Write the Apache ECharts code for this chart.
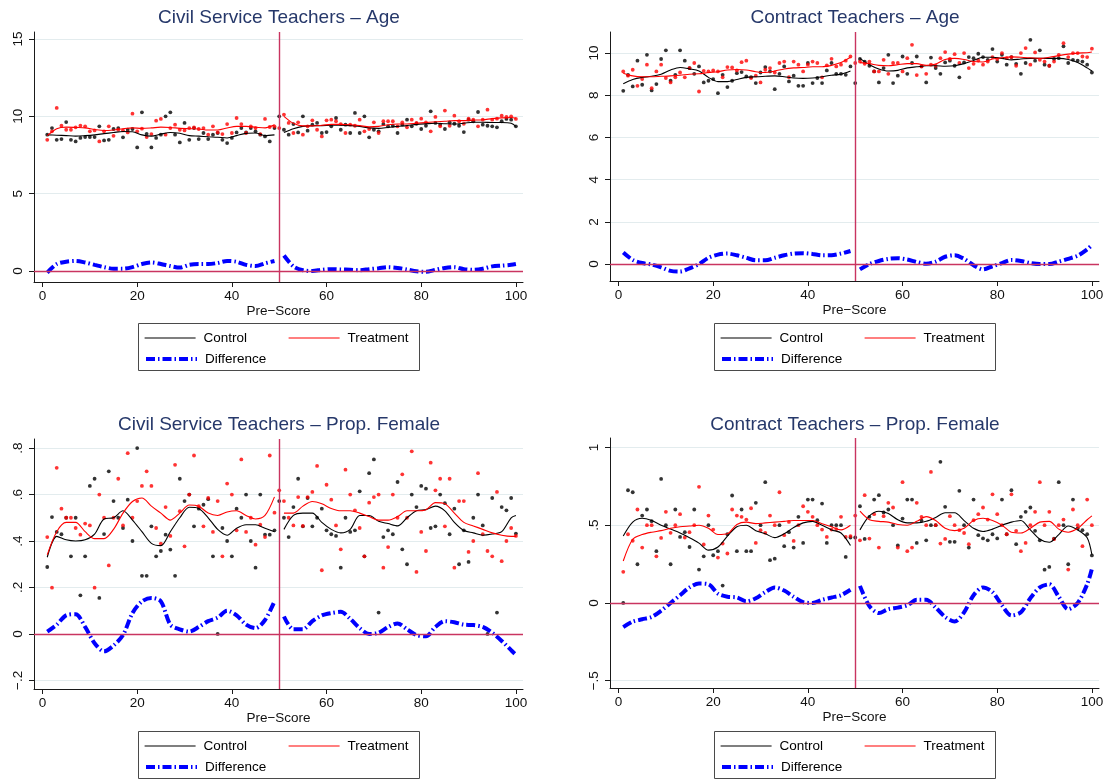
<!DOCTYPE html>
<html>
<head>
<meta charset="utf-8">
<script src="https://cdn.jsdelivr.net/npm/echarts@6.0.0/dist/echarts.min.js"></script>
<style>
  html, body { margin: 0; padding: 0; background: #ffffff; }
  #chart { width: 1109px; height: 780px; }
</style>
</head>
<body>
<div id="chart"></div>
<script>
// ---- Pre-score bins (x positions of the binned means) ----
const preScore = [1,2,3,4,5,6,7,8,9,10,11,12,13,14,15,16,17,18,19,20,
  21,22,23,24,25,26,27,28,29,30,31,32,33,34,35,36,37,38,39,40,
  41,42,43,44,45,46,47,48,49,50,51,52,53,54,55,56,57,58,59,60,
  61,62,63,64,65,66,67,68,69,70,71,72,73,74,75,76,77,78,79,80,
  81,82,83,84,85,86,87,88,89,90,91,92,93,94,95,96,97,98,99,100];

// Evaluation points of the local fits, below and above the cutoff at 50
const knotsBelow = [1,3,5,7,9,11,13,15,17,19,21,23,25,27,29,31,33,35,37,39,41,43,45,47,49];
const knotsAbove = [51,53,55,57,59,61,63,65,67,69,71,73,75,77,79,81,83,85,87,89,91,93,95,97,99,100];

const xTicks = [0, 20, 40, 60, 80, 100];

// ---- Civil Service Teachers - Age ----
const csAgeControl = [8.81,9.24,8.48,8.53,9.63,8.48,8.38,8.6,8.66,8.66,
  8.66,9.35,8.44,8.48,9.18,9.24,8.64,9.13,9.18,7.99,
  10.26,8.87,7.99,8.6,8.81,10.0,10.26,8.81,8.31,9.57,
  8.48,9.24,8.53,8.92,8.53,8.81,8.92,8.48,8.27,8.6,
  8.96,9.24,8.96,9.24,9.03,8.81,8.7,8.38,9.24,10.0,
  9.13,8.81,9.5,8.96,10.0,9.07,9.46,9.57,8.92,8.98,
  9.35,9.89,9.13,9.46,8.92,10.22,8.92,10.0,8.64,9.13,
  9.03,9.5,9.35,9.39,8.92,9.46,9.78,9.35,9.52,9.18,
  9.39,10.32,9.57,9.46,9.18,9.61,9.52,9.39,8.98,9.78,
  9.68,10.28,9.46,9.39,9.35,9.29,9.68,9.83,9.78,9.35];
const csAgeTreat = [8.48,9.03,10.54,9.39,9.13,9.13,9.29,9.39,9.35,9.03,
  9.09,8.38,9.03,9.35,8.74,9.13,9.09,8.96,10.17,9.03,
  9.2,8.66,8.85,9.72,9.83,8.81,9.24,9.46,9.13,9.09,
  9.24,9.29,9.18,9.24,8.81,9.35,8.96,8.85,9.5,8.92,
  9.89,9.5,8.92,9.35,9.24,8.85,9.83,9.31,9.35,9.24,
  10.11,9.57,8.92,9.61,8.81,9.35,9.74,9.13,8.7,9.74,
  9.78,9.68,9.5,8.92,9.46,9.39,9.78,9.03,9.18,9.61,
  8.92,9.68,9.68,9.68,9.35,9.61,9.29,9.78,9.57,9.85,
  9.61,9.03,9.96,9.35,10.37,9.39,10.04,9.68,9.52,9.85,
  9.78,9.35,9.78,10.43,9.78,9.85,10.04,9.96,10.0,9.83];
const csAgeControlFitBelow = [8.8,8.78,8.75,8.72,8.75,8.8,8.88,8.95,9.02,9.0,8.8,8.72,8.85,8.95,8.9,8.75,8.72,8.68,8.65,8.6,8.75,8.9,8.92,8.75,8.8];
const csAgeControlFitAbove = [8.95,9.2,9.35,9.4,9.4,9.42,9.42,9.4,9.35,9.25,9.22,9.28,9.35,9.4,9.48,9.52,9.55,9.52,9.5,9.55,9.62,9.62,9.6,9.6,9.55,9.35];
const csAgeTreatFitBelow = [8.75,9.2,9.3,9.28,9.25,9.15,9.08,9.12,9.2,9.25,9.22,9.25,9.3,9.28,9.22,9.2,9.18,9.12,9.12,9.25,9.35,9.35,9.3,9.25,9.45];
const csAgeTreatFitAbove = [10.0,9.55,9.38,9.38,9.42,9.48,9.48,9.45,9.4,9.32,9.35,9.45,9.5,9.5,9.55,9.6,9.65,9.68,9.72,9.72,9.75,9.78,9.85,9.9,9.92,9.88];
const csAgeDiffBelow = [-0.1,0.45,0.6,0.65,0.55,0.4,0.25,0.15,0.15,0.25,0.45,0.55,0.45,0.32,0.22,0.4,0.45,0.45,0.52,0.65,0.6,0.4,0.32,0.5,0.65];
const csAgeDiffAbove = [1.0,0.3,0.05,0.0,0.08,0.12,0.1,0.08,0.05,0.12,0.18,0.25,0.2,0.1,-0.02,-0.05,0.08,0.2,0.25,0.12,0.08,0.15,0.3,0.35,0.4,0.45];

// ---- Contract Teachers - Age ----
const ctAgeControl = [8.21,8.97,8.42,9.64,8.5,9.92,8.23,8.53,9.72,10.13,
  8.69,8.97,10.13,9.64,9.29,9.02,9.37,8.61,8.69,8.77,
  8.1,8.97,8.39,8.69,9.05,9.1,8.89,8.86,8.58,9.08,
  9.34,9.13,8.29,9.02,9.37,8.66,8.93,8.45,8.45,9.53,
  8.58,8.82,8.58,9.18,9.53,9.02,9.02,8.97,9.37,8.58,
  9.72,9.6,9.4,9.13,8.61,9.29,9.92,8.58,8.93,9.84,
  9.02,9.53,9.84,9.37,8.61,9.79,9.29,9.02,9.56,9.64,
  9.4,8.85,9.56,9.81,9.76,9.97,9.81,9.68,10.19,9.6,
  9.92,9.45,9.81,9.49,9.02,9.53,10.63,9.64,10.13,9.45,
  9.4,9.72,9.76,10.32,9.53,9.68,9.64,9.6,9.45,9.08];
const ctAgeTreat = [9.13,8.93,9.21,8.45,8.77,9.45,8.34,9.13,9.45,8.82,
  8.61,8.85,9.08,8.85,9.29,9.53,8.18,9.16,9.13,9.18,
  9.13,8.85,9.34,9.32,9.18,9.57,9.64,8.82,8.93,8.61,
  9.21,9.29,9.08,9.53,9.6,8.86,9.6,9.45,9.13,9.45,
  9.6,9.53,8.85,9.42,9.73,9.37,9.45,9.64,9.84,9.53,
  9.6,9.49,9.6,9.13,9.13,9.68,9.02,9.53,9.53,9.13,
  9.76,10.39,8.96,9.37,9.02,9.45,9.4,9.76,10.05,9.72,
  9.95,9.53,10.0,9.29,9.49,9.65,9.45,9.6,9.81,9.72,
  10.0,9.76,9.81,9.4,10.0,10.24,9.45,10.03,9.68,9.6,
  9.4,9.6,9.92,10.47,9.81,10.0,10.0,9.84,9.81,10.21];
const ctAgeControlFitBelow = [8.55,8.75,8.85,8.9,9.0,9.2,9.32,9.25,9.15,8.85,8.65,8.65,8.75,8.85,8.88,8.9,8.92,8.88,8.82,8.8,8.82,8.88,8.95,9.0,9.15];
const ctAgeControlFitAbove = [9.75,9.45,9.25,9.15,9.18,9.3,9.35,9.4,9.4,9.38,9.4,9.5,9.65,9.8,9.8,9.75,9.68,9.72,9.75,9.75,9.75,9.75,9.7,9.55,9.3,9.15];
const ctAgeTreatFitBelow = [9.05,8.92,8.88,8.88,8.9,8.92,8.95,9.0,9.02,9.08,9.12,9.2,9.22,9.2,9.12,9.08,9.15,9.25,9.3,9.32,9.35,9.35,9.42,9.55,9.8];
const ctAgeTreatFitAbove = [9.55,9.5,9.42,9.4,9.45,9.5,9.5,9.42,9.48,9.7,9.75,9.7,9.6,9.58,9.72,9.78,9.82,9.8,9.78,9.75,9.8,9.88,9.95,10.0,10.02,10.05];
const ctAgeDiffBelow = [0.55,0.2,0.05,-0.02,-0.15,-0.32,-0.35,-0.2,0.0,0.3,0.45,0.5,0.42,0.3,0.18,0.18,0.3,0.42,0.5,0.52,0.48,0.42,0.42,0.5,0.62];
const ctAgeDiffAbove = [-0.25,0.0,0.15,0.25,0.28,0.22,0.1,0.02,0.12,0.35,0.42,0.25,-0.05,-0.25,-0.1,0.05,0.2,0.15,0.05,0.0,0.0,0.12,0.25,0.4,0.7,0.9];

// ---- Civil Service Teachers - Prop. Female ----
const csFemControl = [0.288,0.503,0.439,0.429,0.5,0.334,0.5,0.166,0.334,0.637,
  0.668,0.155,0.43,0.7,0.572,0.5,0.456,0.578,0.4,0.8,
  0.25,0.25,0.463,0.334,0.357,0.427,0.363,0.25,0.668,0.572,
  0.6,0.463,0.539,0.556,0.58,0.334,0.0,0.456,0.4,0.334,
  0.539,0.5,0.6,0.4,0.285,0.6,0.427,0.427,0.446,0.572,
  0.5,0.417,0.546,0.668,0.463,0.585,0.463,0.5,0.539,0.446,
  0.429,0.422,0.285,0.5,0.439,0.446,0.614,0.334,0.692,0.751,
  0.092,0.417,0.446,0.429,0.654,0.364,0.3,0.6,0.546,0.637,
  0.625,0.456,0.463,0.6,0.563,0.429,0.539,0.3,0.446,0.31,
  0.5,0.6,0.467,0.0,0.585,0.092,0.546,0.532,0.585,0.432];
const csFemTreat = [0.417,0.199,0.715,0.539,0.5,0.5,0.456,0.427,0.475,0.467,
  0.199,0.6,0.5,0.295,0.5,0.668,0.467,0.778,0.5,0.572,
  0.637,0.7,0.637,0.456,0.389,0.546,0.422,0.728,0.528,0.377,
  0.6,0.768,0.55,0.463,0.585,0.439,0.572,0.334,0.647,0.6,
  0.446,0.751,0.439,0.5,0.384,0.47,0.417,0.768,0.522,0.618,
  0.572,0.5,0.467,0.589,0.465,0.589,0.611,0.723,0.274,0.642,
  0.578,0.467,0.364,0.707,0.6,0.532,0.456,0.334,0.565,0.589,
  0.6,0.285,0.374,0.6,0.5,0.687,0.5,0.786,0.267,0.439,
  0.357,0.737,0.618,0.668,0.463,0.668,0.285,0.572,0.572,0.353,
  0.4,0.692,0.429,0.357,0.334,0.611,0.313,0.4,0.456,0.422];
const csFemControlFitBelow = [0.33,0.42,0.405,0.4,0.405,0.43,0.495,0.5,0.53,0.49,0.44,0.39,0.38,0.44,0.5,0.545,0.54,0.5,0.45,0.425,0.455,0.47,0.47,0.455,0.44];
const csFemControlFitAbove = [0.45,0.51,0.52,0.52,0.48,0.45,0.435,0.45,0.51,0.51,0.485,0.475,0.465,0.5,0.53,0.535,0.55,0.53,0.48,0.445,0.435,0.425,0.43,0.44,0.5,0.51];
const csFemTreatFitBelow = [0.34,0.44,0.48,0.48,0.44,0.41,0.41,0.45,0.52,0.57,0.585,0.55,0.52,0.49,0.52,0.555,0.55,0.52,0.51,0.525,0.53,0.51,0.495,0.51,0.59];
const csFemTreatFitAbove = [0.52,0.52,0.55,0.57,0.56,0.54,0.53,0.53,0.52,0.505,0.49,0.49,0.505,0.53,0.53,0.535,0.565,0.56,0.52,0.48,0.465,0.45,0.435,0.425,0.42,0.42];
const csFemDiffBelow = [0.01,0.04,0.08,0.085,0.03,-0.04,-0.075,-0.05,-0.005,0.09,0.14,0.155,0.14,0.04,0.02,0.01,0.03,0.055,0.07,0.1,0.08,0.04,0.025,0.06,0.14];
const csFemDiffAbove = [0.075,0.02,0.02,0.055,0.08,0.09,0.095,0.065,0.025,0.0,0.005,0.03,0.045,0.02,-0.005,-0.01,0.03,0.055,0.05,0.04,0.038,0.03,0.005,-0.03,-0.07,-0.09];

// ---- Contract Teachers - Prop. Female ----
const ctFemControl = [0.0,0.725,0.712,0.249,0.562,0.601,0.526,0.333,0.798,0.5,
  0.249,0.601,0.425,0.455,0.36,0.601,0.215,0.3,0.5,0.307,
  0.333,0.112,0.442,0.691,0.333,0.601,0.333,0.333,0.644,0.5,
  0.777,0.275,0.285,0.5,0.365,0.455,0.356,0.554,0.386,0.665,
  0.665,0.532,0.639,0.386,0.5,0.5,0.5,0.296,0.421,0.421,
  0.622,0.412,0.554,0.665,0.693,0.582,0.601,0.5,0.37,0.543,
  0.665,0.665,0.386,0.53,0.403,0.5,0.5,0.908,0.618,0.393,
  0.393,0.721,0.5,0.356,0.665,0.436,0.415,0.403,0.442,0.415,
  0.665,0.442,0.725,0.378,0.554,0.586,0.614,0.464,0.403,0.214,
  0.232,0.414,0.777,0.5,0.249,0.665,0.479,0.468,0.442,0.306];
const ctFemTreat = [0.2,0.442,0.4,0.601,0.356,0.5,0.5,0.3,0.418,0.586,
  0.451,0.5,0.571,0.421,0.455,0.5,0.747,0.376,0.562,0.472,
  0.292,0.382,0.318,0.601,0.562,0.554,0.536,0.609,0.386,0.468,
  0.451,0.562,0.5,0.712,0.436,0.521,0.399,0.5,0.622,0.586,
  0.554,0.5,0.472,0.425,0.472,0.475,0.554,0.425,0.43,0.562,
  0.403,0.693,0.414,0.571,0.356,0.558,0.644,0.614,0.356,0.777,
  0.333,0.356,0.644,0.554,0.5,0.843,0.5,0.382,0.412,0.558,
  0.5,0.468,0.45,0.378,0.532,0.571,0.614,0.536,0.699,0.571,
  0.5,0.442,0.699,0.464,0.333,0.386,0.5,0.586,0.777,0.5,
  0.586,0.41,0.5,0.536,0.215,0.601,0.5,0.365,0.665,0.5];
const ctFemControlFitBelow = [0.43,0.52,0.545,0.53,0.5,0.475,0.45,0.42,0.385,0.34,0.36,0.43,0.49,0.5,0.465,0.445,0.42,0.445,0.485,0.515,0.525,0.5,0.47,0.45,0.37];
const ctFemControlFitAbove = [0.47,0.56,0.59,0.575,0.535,0.515,0.515,0.525,0.55,0.58,0.58,0.53,0.48,0.46,0.475,0.5,0.52,0.53,0.47,0.41,0.39,0.44,0.495,0.47,0.42,0.31];
const ctFemTreatFitBelow = [0.27,0.41,0.44,0.455,0.465,0.48,0.49,0.495,0.5,0.48,0.44,0.445,0.505,0.52,0.51,0.515,0.52,0.525,0.53,0.53,0.53,0.51,0.49,0.47,0.5];
const ctFemTreatFitAbove = [0.59,0.535,0.525,0.52,0.505,0.5,0.525,0.555,0.53,0.48,0.465,0.48,0.53,0.545,0.53,0.5,0.455,0.45,0.48,0.52,0.525,0.475,0.455,0.48,0.535,0.56];
const ctFemDiffBelow = [-0.155,-0.12,-0.105,-0.09,-0.05,0.0,0.05,0.1,0.125,0.12,0.06,0.04,0.035,0.01,0.03,0.07,0.1,0.08,0.04,0.005,0.0,0.02,0.035,0.05,0.085];
const ctFemDiffAbove = [0.11,-0.02,-0.065,-0.04,-0.03,-0.015,0.02,0.02,-0.03,-0.09,-0.12,-0.06,0.05,0.1,0.07,-0.015,-0.08,-0.06,0.03,0.1,0.12,0.04,-0.04,0.0,0.12,0.22];

// ---- Y-axis ticks and their printed labels ----
const csAgeTicks = [0, 5, 10, 15];
const csAgeTickLabels = ['0', '5', '10', '15'];
const ctAgeTicks = [0, 2, 4, 6, 8, 10];
const ctAgeTickLabels = ['0', '2', '4', '6', '8', '10'];
const csFemTicks = [-0.2, 0, 0.2, 0.4, 0.6, 0.8];
const csFemTickLabels = ['\u2212.2', '0', '.2', '.4', '.6', '.8'];
const ctFemTicks = [-0.5, 0, 0.5, 1];
const ctFemTickLabels = ['\u2212.5', '0', '.5', '1'];

// ---- Styling ----
const FONT = '"Liberation Sans", Arial, Helvetica, sans-serif';
const TITLE_COLOR = '#26386a';
const AXIS_COLOR = '#1a1a1a';
const GRID_COLOR = '#e3ecee';
const REF_COLOR = '#c93460';
const BLUE = '#0000ff';
const RED = '#ff0000';
const BLACK = '#000000';

const panels = [
  { title: 'Civil Service Teachers \u2013 Age', grid: { left: 34, top: 32, width: 489, height: 250 },
    yMin: -0.71, yMax: 15.45, ticks: csAgeTicks, tickLabels: csAgeTickLabels,
    control: csAgeControl, treat: csAgeTreat,
    ctlBelow: csAgeControlFitBelow, ctlAbove: csAgeControlFitAbove,
    trtBelow: csAgeTreatFitBelow, trtAbove: csAgeTreatFitAbove,
    diffBelow: csAgeDiffBelow, diffAbove: csAgeDiffAbove,
    titleX: 279, titleY: 18, legendX: 138, legendY: 323 },
  { title: 'Contract Teachers \u2013 Age', grid: { left: 610, top: 32, width: 489, height: 249 },
    yMin: -0.8, yMax: 11.0, ticks: ctAgeTicks, tickLabels: ctAgeTickLabels,
    control: ctAgeControl, treat: ctAgeTreat,
    ctlBelow: ctAgeControlFitBelow, ctlAbove: ctAgeControlFitAbove,
    trtBelow: ctAgeTreatFitBelow, trtAbove: ctAgeTreatFitAbove,
    diffBelow: ctAgeDiffBelow, diffAbove: ctAgeDiffAbove,
    titleX: 855, titleY: 18, legendX: 714, legendY: 323 },
  { title: 'Civil Service Teachers \u2013 Prop. Female', grid: { left: 34, top: 439, width: 489, height: 250 },
    yMin: -0.237, yMax: 0.839, ticks: csFemTicks, tickLabels: csFemTickLabels,
    control: csFemControl, treat: csFemTreat,
    ctlBelow: csFemControlFitBelow, ctlAbove: csFemControlFitAbove,
    trtBelow: csFemTreatFitBelow, trtAbove: csFemTreatFitAbove,
    diffBelow: csFemDiffBelow, diffAbove: csFemDiffAbove,
    titleX: 279, titleY: 425, legendX: 138, legendY: 731 },
  { title: 'Contract Teachers \u2013 Prop. Female', grid: { left: 610, top: 438, width: 489, height: 250 },
    yMin: -0.547, yMax: 1.061, ticks: ctFemTicks, tickLabels: ctFemTickLabels,
    control: ctFemControl, treat: ctFemTreat,
    ctlBelow: ctFemControlFitBelow, ctlAbove: ctFemControlFitAbove,
    trtBelow: ctFemTreatFitBelow, trtAbove: ctFemTreatFitAbove,
    diffBelow: ctFemDiffBelow, diffAbove: ctFemDiffAbove,
    titleX: 855, titleY: 425, legendX: 714, legendY: 731 }
];

const pairs = (xs, ys) => xs.map((x, k) => [x, ys[k]]);

function fitLine(name, idx, xs, ys, color, width, dash, z) {
  return {
    type: 'line', name: name, xAxisIndex: idx, yAxisIndex: idx,
    data: pairs(xs, ys), symbol: 'none', smooth: 0.3, silent: true, z: z,
    itemStyle: { color: color },
    lineStyle: { color: color, width: width, type: dash, cap: 'butt' }
  };
}

// Legend entry: only the line sample is shown, the marker is made invisible
function legendItem(name, x, cy, lineWidth) {
  return {
    data: [name], left: x, top: cy - 7, padding: 0, selectedMode: false,
    itemWidth: 51, itemHeight: 14,
    lineStyle: { width: lineWidth },
    itemStyle: { color: 'rgba(0,0,0,0)', borderColor: 'rgba(0,0,0,0)', borderWidth: 0 },
    textStyle: { fontSize: 13.5, color: '#000', fontFamily: FONT, padding: [0, 0, 0, 3] }
  };
}

const DIFF_DASH = [9, 3, 1.5, 3];

const option = {
  animation: false,
  backgroundColor: '#ffffff',
  textStyle: { fontFamily: FONT },
  grid: [], xAxis: [], yAxis: [], series: [], legend: [], graphic: []
};

panels.forEach((p, i) => {
  option.grid.push(Object.assign({ containLabel: false }, p.grid));

  option.xAxis.push({
    type: 'value', gridIndex: i, min: -1.8, max: 101.5,
    name: 'Pre\u2212Score', nameLocation: 'middle', nameGap: 21,
    nameTextStyle: { fontSize: 13.5, color: '#111', fontFamily: FONT },
    axisLine: { show: true, onZero: false, lineStyle: { color: AXIS_COLOR, width: 1 } },
    axisTick: { show: true, length: 5, customValues: xTicks, lineStyle: { color: AXIS_COLOR } },
    axisLabel: { customValues: xTicks, fontSize: 13.5, color: '#111', margin: 7, fontFamily: FONT },
    splitLine: { show: false }
  });

  option.yAxis.push({
    type: 'value', gridIndex: i, min: p.yMin, max: p.yMax,
    axisLine: { show: true, onZero: false, lineStyle: { color: AXIS_COLOR, width: 1 } },
    axisTick: { show: true, length: 5, customValues: p.ticks, lineStyle: { color: AXIS_COLOR } },
    axisLabel: {
      customValues: p.ticks, rotate: 90, fontSize: 13.5, color: '#111', margin: 9, fontFamily: FONT,
      formatter: v => {
        const k = p.ticks.findIndex(t => Math.abs(t - v) < 1e-9);
        return k >= 0 ? p.tickLabels[k] : '';
      }
    },
    splitLine: { show: true, lineStyle: { color: GRID_COLOR, width: 1 } }
  });

  // binned means
  option.series.push({
    type: 'scatter', name: 'Control means', xAxisIndex: i, yAxisIndex: i,
    data: pairs(preScore, p.control), symbol: 'circle', symbolSize: 3.8, silent: true, z: 2,
    itemStyle: { color: BLACK },
    markLine: {
      silent: true, symbol: ['none', 'none'], label: { show: false },
      lineStyle: { color: REF_COLOR, width: 1.4, type: 'solid' },
      data: [{ xAxis: 50 }, { yAxis: 0 }]
    }
  });
  option.series.push({
    type: 'scatter', name: 'Treatment means', xAxisIndex: i, yAxisIndex: i,
    data: pairs(preScore, p.treat), symbol: 'circle', symbolSize: 3.8, silent: true, z: 2,
    itemStyle: { color: RED }
  });

  // local fits on each side of the cutoff
  option.series.push(fitLine('Control', i, knotsBelow, p.ctlBelow, BLACK, 1.1, 'solid', 3));
  option.series.push(fitLine('Control', i, knotsAbove, p.ctlAbove, BLACK, 1.1, 'solid', 3));
  option.series.push(fitLine('Treatment', i, knotsBelow, p.trtBelow, RED, 1.1, 'solid', 3));
  option.series.push(fitLine('Treatment', i, knotsAbove, p.trtAbove, RED, 1.1, 'solid', 3));
  option.series.push(fitLine('Difference', i, knotsBelow, p.diffBelow, BLUE, 4, DIFF_DASH, 4));
  option.series.push(fitLine('Difference', i, knotsAbove, p.diffAbove, BLUE, 4, DIFF_DASH, 4));

  // panel title
  option.graphic.push({
    type: 'text', x: p.titleX, y: p.titleY, silent: true,
    style: { text: p.title, fontSize: 19, fontFamily: FONT, fill: TITLE_COLOR, align: 'center', verticalAlign: 'middle' }
  });

  // legend frame and entries
  option.graphic.push({
    type: 'rect', silent: true, z: 0,
    shape: { x: p.legendX + 0.5, y: p.legendY + 0.5, width: 281, height: 47 },
    style: { fill: 'none', stroke: '#4a4a4a', lineWidth: 1 }
  });
  option.legend.push(legendItem('Control', p.legendX + 6, p.legendY + 15, 1.2));
  option.legend.push(legendItem('Treatment', p.legendX + 150, p.legendY + 15, 1.2));
  option.legend.push(legendItem('Difference', p.legendX + 6, p.legendY + 36, 4));
});

const chart = echarts.init(document.getElementById('chart'), null, { renderer: 'canvas' });
chart.setOption(option);
</script>
</body>
</html>
